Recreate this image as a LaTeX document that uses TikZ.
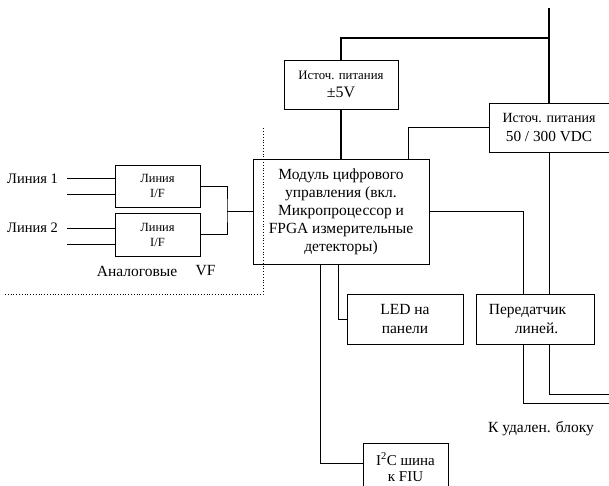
\documentclass[tikz,border=0pt]{standalone}
\usepackage{fontspec}
\setmainfont{Liberation Serif}
\begin{document}
\begin{tikzpicture}[x=1pt,y=-1pt,
  box/.style={draw, line width=0.9pt, inner sep=0pt, align=center},
  wire/.style={line width=0.9pt},
  bus/.style={line width=1.7pt},
  txt/.style={inner sep=0pt, align=center, font=\fontsize{15.5}{18}\selectfont}]
\useasboundingbox (0,0) rectangle (609,485);

% blocks
\node[box, minimum width=114pt, minimum height=49pt, font=\fontsize{12.8}{18}\selectfont] (psu5) at (341,84.5)
  {Источ. питания\\{\fontsize{16}{18}\selectfont ±5V}};
\node[box, minimum width=120pt, minimum height=49pt, font=\fontsize{14}{19}\selectfont] (psu50) at (549,127.5)
  {Источ. питания\\{\fontsize{15.3}{19}\selectfont 50 / 300 VDC}};
\node[box, minimum width=176pt, minimum height=105pt, font=\fontsize{15.5}{18}\selectfont] (dcm) at (341,211.5)
  {Модуль цифрового\\управления (вкл.\\Микропроцессор и\\FPGA измерительные\\детекторы)};
\node[box, minimum width=85pt, minimum height=42pt, font=\fontsize{12.5}{15}\selectfont] (if1) at (157.5,186) {Линия\\I/F};
\node[box, minimum width=85pt, minimum height=43pt, font=\fontsize{12.5}{15}\selectfont] (if2) at (157.5,234.5) {Линия\\I/F};
\node[box, minimum width=116pt, minimum height=50pt, font=\fontsize{15.5}{19}\selectfont] (led) at (405,319) {LED на\\панели};
\node[box, minimum width=118pt, minimum height=50pt, font=\fontsize{15.5}{19}\selectfont] (tx) at (535,319)
  {Передатчик\hspace*{15pt}\\\hspace*{3pt}линей.};
\node[box, minimum width=85pt, minimum height=48pt, font=\fontsize{15}{16}\selectfont] (i2c) at (405.5,467)
  {I\textsuperscript{2}C шина\\к FIU};

% free labels
\node[txt, anchor=west, font=\fontsize{14.5}{16}\selectfont] (l1) at (7,179) {Линия 1};
\node[txt, anchor=west, font=\fontsize{14.5}{16}\selectfont] (l2) at (7,228) {Линия 2};
\node[txt] (analog) at (137,271) {Аналоговые};
\node[txt] (vf) at (205.5,271) {VF};
\node[txt] (remote) at (541,429) {К удален. блоку};

% named points
\coordinate (top) at (549,8);
\coordinate (j1) at (549,38);
\coordinate (jn) at (227,211);
\coordinate (in1a) at (67,178);
\coordinate (in1b) at (67,194);
\coordinate (in2a) at (67,228);
\coordinate (in2b) at (67,244);
\coordinate (out1) at (609,394);
\coordinate (out2) at (609,403);

% power feed
\draw[bus] (top) -- (psu50.north);
\draw[bus] (psu5.north) |- (j1);
\draw[bus] (psu5.south) -- (psu5.south |- dcm.north);
\draw[wire] (psu50.west) -| ([xshift=-21pt]dcm.north east);
\draw[wire] (psu50.south) -- (psu50.south |- tx.north);

% signal lines
\draw[wire] (in1a) -- (in1a -| if1.west);
\draw[wire] (in1b) -- (in1b -| if1.west);
\draw[wire] (in2a) -- (in2a -| if2.west);
\draw[wire] (in2b) -- (in2b -| if2.west);
\draw[wire] (if1.east) -| (jn) |- (if2.east);
\draw[wire] (jn) -- (jn -| dcm.west);
\draw[wire] (dcm.east) -| ([xshift=-12pt]tx.north);
\draw[wire] ([xshift=-12pt]tx.south) |- (out2);
\draw[wire] ([xshift=14pt]tx.south) |- (out1);
\draw[wire] ([xshift=-3pt]dcm.south) |- (led.west);
\draw[wire] ([xshift=-21pt]dcm.south) |- ([yshift=4pt]i2c.west);

% analogue section border
\draw[dotted, line width=0.8pt] (5,294) -| (263,128);
\end{tikzpicture}
\end{document}
